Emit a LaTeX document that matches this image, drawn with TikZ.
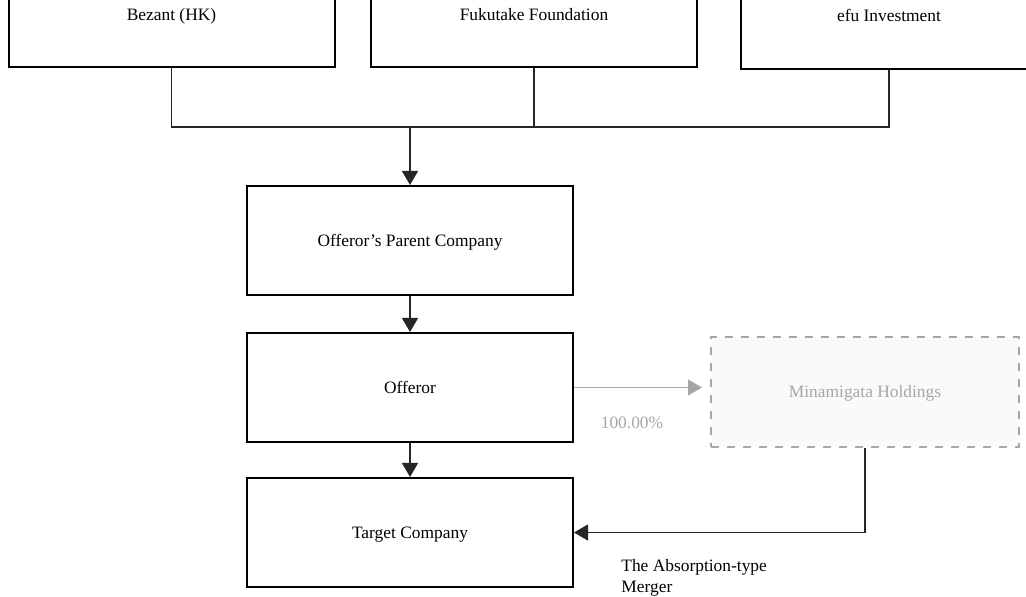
\documentclass[tikz,border=0pt]{standalone}
\usepackage{fontspec}
\setmainfont{Liberation Serif}
\usetikzlibrary{arrows.meta}

\definecolor{faintline}{HTML}{A6A6A6}
\definecolor{faintfill}{HTML}{FAFAFA}

\begin{document}
\begin{tikzpicture}[x=0.5pt, y=-0.5pt,
    every node/.style={font=\fontsize{8.7}{10.5}\selectfont},
    entity/.style={draw, line width=1pt, minimum width=163pt, minimum height=54.5pt, inner sep=0pt,
        text height=1.6ex, text depth=.4ex},
    dimbox/.style={entity, draw=faintline, fill=faintfill, dash pattern=on 4pt off 4pt, text=faintline},
    link/.style={line width=0.6pt, draw=black!85},
    flow/.style={link, -{Triangle[width=8pt,length=7pt]}}]

    % Frame
    \useasboundingbox (0,0) rectangle (1026,597);
    \clip (0,0) rectangle (1026,597);

    % Shareholders
    \node[entity, minimum height=52pt] (bezant) at (171.5,15) {Bezant (HK)};
    \node[entity, minimum height=52pt] (fukutake) at (534,15) {Fukutake Foundation};
    \node[entity, minimum width=148pt, minimum height=53pt] (efu) at (889,16) {efu Investment};

    % Companies
    \node[entity] (parent) at (410,240.5) {Offeror’s Parent Company};
    \node[entity] (offeror) at (410,387.5) {Offeror};
    \node[entity] (target) at (410,532.5) {Target Company};
    \node[dimbox, minimum width=154pt, minimum height=55pt] (minamigata) at (865,392) {Minamigata Holdings};

    % Ownership lines
    \coordinate (bus) at (410,127);
    \draw[link] (bezant.south) |- (bus) -| (efu.south);
    \draw[link] (fukutake.south) -- (fukutake.south |- bus);
    \draw[flow] (bus) -- (parent.north);
    \draw[flow] (parent.south) -- (offeror.north);
    \draw[flow] (offeror.south) -- (target.north);

    % Subsidiary
    \draw[flow, draw=faintline, fill=faintline, shorten >=4pt] (offeror.east) -- (offeror.east -| minamigata.west);
    \node[text=faintline] (share) at (632,423) {100.00\%};

    % Merger
    \draw[flow] (minamigata.south) |- (target.east);
    \node[anchor=north west, align=left, inner sep=0pt] (merger) at (621,559) {The Absorption-type\\Merger};

\end{tikzpicture}
\end{document}
